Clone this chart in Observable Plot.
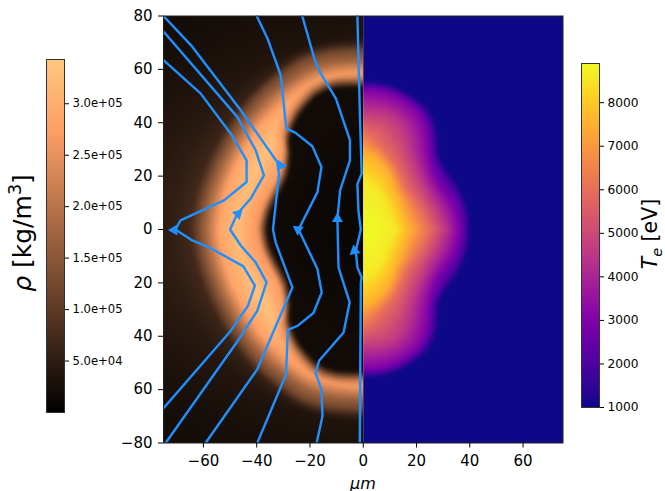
<!DOCTYPE html>
<html><head><meta charset="utf-8">
<script src="https://cdn.jsdelivr.net/npm/d3@7"></script>
<script src="https://cdn.jsdelivr.net/npm/@observablehq/plot@0.6"></script>
<style>
html,body{margin:0;padding:0;background:#fff}
#page{position:relative;width:665px;height:491px;overflow:hidden;font-family:"DejaVu Sans",sans-serif;color:#000}
.rot{position:absolute;transform:translate(-50%,-50%) rotate(-90deg);white-space:nowrap}
</style></head><body><div id="page"></div>
<script>
// ---- axis ticks ----
const xTicks=[-60,-40,-20,0,20,40,60];
const yTicks=[80,60,40,20,0,-20,-40,-60,-80];
const yTickLabels=["80","60","40","20","0","20","40","60","\u221280"];
const rhoTicks=[5e4,1e5,1.5e5,2e5,2.5e5,3e5];
const teTicks=[1000,2000,3000,4000,5000,6000,7000,8000];
const rhoMax=3.43e5, teMin=1000, teMax=8900;

// ---- density shell, read along rays from the origin (deg from -x axis towards +y) ----
const rayDeg=[0,5,10,15,20,25,30,35,40,45,50,55,60,65,70,75,80,85,90];
const rInner=[38,37.7,37.3,36.8,36.3,36,36,36.5,38,40.5,45,48,50.5,52.5,54.5,55.5,55.7,55.3,55];
const rCrest=[47,47,47,46.5,46,46,46,46,46.5,48,51,53,55,56.5,58,58.5,58.5,58.5,58.5];
const rShoulderB=[54,53.7,53.5,53.2,53,53,53,53.5,54,54.8,55.5,56.5,58,59,60,60.3,60.3,60.3,60.3];
const rOuter=[62,61.7,61.5,61.2,61,61,61,61.5,62,62.8,63.5,64.3,65,66,67,67.3,67.3,67,67];
const rhoCrest=[3.25e5,3.25e5,3.25e5,3.25e5,3.3e5,3.3e5,3.35e5,3.35e5,3.35e5,3.3e5,3.1e5,3e5,2.9e5,2.8e5,2.75e5,2.7e5,2.7e5,2.7e5,2.7e5];
const rhoB=[2.85e5,2.85e5,2.85e5,2.85e5,2.85e5,2.85e5,2.85e5,2.85e5,2.8e5,2.8e5,2.7e5,2.6e5,2.5e5,2.45e5,2.4e5,2.4e5,2.4e5,2.4e5,2.4e5];
const rhoShoulder=[1.9e5,1.9e5,1.9e5,1.9e5,1.9e5,1.9e5,1.9e5,1.9e5,1.85e5,1.85e5,1.8e5,1.8e5,1.75e5,1.7e5,1.7e5,1.7e5,1.7e5,1.7e5,1.7e5];
const farShare=[1,1,1,0.98,0.95,0.92,0.88,0.84,0.8,0.76,0.72,0.7,0.68,0.66,0.65,0.65,0.65,0.65,0.65];
const coreRadii=[0,10,20,30], coreRho=[1.1e4,1.2e4,1.4e4,1.7e4];
const farRadii=[72,80,90,100,116], farRho=[5.2e4,4.4e4,3.6e4,3e4,2.6e4];
const rhoInnerFoot=1.9e4, rhoInnerTopShare=0.8, rhoOuterMid=1.25e5, rhoOuterFoot=7e4;

// ---- electron temperature, contour radii along rays (deg from +x axis) ----
const teEdge=[40,40,40,39.8,39.5,39.2,38.8,38.6,38.8,40,43.5,47.5,50.3,52.2,53.5,54.5,55.3,55.5,55.5];
const te2000=[38.5,38.5,38.3,38,37.6,37.2,36.8,36.6,37,38.2,41.3,45.2,48.5,50.8,52,53,53.8,54,54];
const te3000=[36,35.8,35.6,35,34.3,33.6,33.2,33.4,34.2,35.8,38.3,42.3,46,48.7,50,51.2,52,52.3,52.4];
const te4500=[31,30,29.5,29,28.5,28,28,28.2,28.7,29.5,30.8,32.6,35,38.5,41.5,43.5,44.2,44.2,44.2];
const te6000=[25,24,23.5,23,22.5,22.2,22,22,22,22.4,23.3,24.5,26,27.5,29,30.7,32.7,35,36.6];
const te7500=[18,17,16.6,16.5,16.5,16.6,16.8,17.2,17.8,18.2,18.8,20,21.3,22.8,24.2,25.5,27,28,29];
const te8600=[12.5,12,11.5,11.3,11.2,11.2,11.2,11.3,11.5,12,12.6,13.3,14,14.8,15.6,16.2,17,17.5,18];
const teLevels=[[teEdge,1050],[te2000,2000],[te3000,3000],[te4500,4500],[te6000,6000],[te7500,7500],[te8600,8600]];
const teCoreRadii=[0,5], teCore=[8850,8850];
const teFarRadii=[60,80,112];

// ---- streamlines [x, y] in um ----
const lineA=[[-75,80],[-64.2,68.5],[-46,44.7],[-32.3,25.3],[-31.6,20.9],[-33.9,0],[-32.9,-4.8],[-26.6,-21.7],[-39.8,-52.4],[-59.2,-80]];
const lineB=[[-75,74.2],[-47.3,42.2],[-40.4,29.7],[-37.3,20.3],[-42.3,11.5],[-47.3,5.9],[-50,0],[-46,-6],[-40.4,-12.3],[-36.3,-19.8],[-39.8,-30.5],[-46.7,-41.1],[-74.2,-80]];
const lineC=[[-75,63.5],[-61.1,51],[-49.8,36],[-43.8,25.9],[-43.8,17.8],[-52.3,10.9],[-68.6,3.4],[-70.5,0],[-64.2,-4.1],[-57.3,-7],[-45,-13.8],[-40.7,-21],[-43.3,-28.6],[-49.8,-38],[-75,-67]];
const lineD=[[-40,80],[-36,71.7],[-31,57.9],[-28.9,37.9],[-25.4,36.2],[-19.1,31.2],[-15.7,23.4],[-17.2,14],[-24.3,0],[-17.2,-14.8],[-15.6,-23.6],[-18.7,-31.3],[-24.7,-36.1],[-28.3,-37.6],[-29,-54.3],[-39.8,-80]];
const lineE=[[-22.9,80],[-18.2,63.5],[-16,58.5],[-10.3,49.1],[-5,33.5],[-5,25.9],[-8.7,14.7],[-9.7,4],[-9.3,-14.2],[-5.1,-27.3],[-7.4,-38.6],[-16.6,-49.2],[-17.9,-53.9],[-15.7,-59.9],[-15.3,-69.9],[-17.5,-80]];
const lineF=[[-2.2,80],[-1.3,44.7],[-0.6,21],[-2.2,17],[-1.8,7],[-0.9,0],[-2.8,-8],[-2.2,-14.2],[-0.6,-18],[-0.9,-19.8],[-1.3,-80]];
const streamlines=[lineA,lineB,lineC,lineD,lineE,lineF];
const arrowX=[-31,-47,-71,-24.5,-9.7,-3.3];
const arrowY=[24,5.9,-0.2,0,4,-8];
const arrowAngle=[95,45,-90,-55,0,-10];

const blue="#1e90ff";
const rad=d=>d*Math.PI/180;
// keeps the axis ray off the centre of a pixel row, where raster triangles leave a seam
const seamNudge=0.07;

// tables for the raster marks
const rhoPoints=[];
rayDeg.forEach((deg,i)=>{
  const prof=[
    ...coreRadii.map((r,k)=>[r,coreRho[k]]),
    [rInner[i]-2,rhoInnerFoot],
    [rInner[i]+1.5,rhoCrest[i]*rhoInnerTopShare],
    [rCrest[i],rhoCrest[i]],
    [rShoulderB[i],rhoB[i]],
    [rOuter[i]-3.5,rhoShoulder[i]],
    [rOuter[i],rhoOuterMid],
    [rOuter[i]+3,rhoOuterFoot*(0.3+0.7*farShare[i])],
    ...farRadii.map((r,k)=>[r,farRho[k]*farShare[i]])
  ];
  for(const [r,v] of prof){
    rhoPoints.push({x:-r*Math.cos(rad(deg)),y:r*Math.sin(rad(deg))+(deg===0?seamNudge:0),v});
    if(deg>0) rhoPoints.push({x:-r*Math.cos(rad(deg)),y:-r*Math.sin(rad(deg)),v});
  }
});
const tePoints=[];
rayDeg.forEach((deg,i)=>{
  const prof=[
    ...teCoreRadii.map((r,k)=>[r,teCore[k]]),
    ...teLevels.map(([arr,v])=>[arr[i],v]).reverse(),
    [teEdge[i]+1.2,1000],
    ...teFarRadii.map(r=>[r,1000])
  ];
  for(const [r,v] of prof){
    tePoints.push({x:r*Math.cos(rad(deg)),y:r*Math.sin(rad(deg))+(deg===0?seamNudge:0),v});
    if(deg>0) tePoints.push({x:r*Math.cos(rad(deg)),y:-r*Math.sin(rad(deg)),v});
  }
});

const copperScale={type:"linear",domain:[0,0.8*rhoMax,rhoMax],range:["#000000","#ff9f65","#ffc77f"],clamp:true};
const plasmaScale={type:"linear",scheme:"plasma",domain:[teMin,teMax],clamp:true};
const frameBox={width:665,height:491,marginLeft:163,marginRight:102.5,marginTop:15.5,marginBottom:48.5};
const xS={domain:[-75,75]}, yS={domain:[-80,80]};

const page=document.getElementById("page");
function place(el,left,top){el.style.position="absolute";el.style.left=left+"px";el.style.top=top+"px";el.style.maxWidth="none";page.appendChild(el);}

// density layer
const rhoPlot=Plot.plot({...frameBox,x:{...xS,axis:null},y:{...yS,axis:null},color:copperScale,
  style:{background:"transparent"},
  marks:[Plot.raster(rhoPoints,{x:"x",y:"y",fill:"v",x1:-75,x2:0,y1:-80,y2:80,interpolate:"barycentric",pixelSize:1,blur:1.2})]});
place(rhoPlot,0,0);

// temperature layer, axes and streamlines
const mainPlot=Plot.plot({...frameBox,x:{...xS,axis:null},y:{...yS,axis:null},color:plasmaScale,
  style:{background:"transparent",fontFamily:"DejaVu Sans",fontSize:"15px",color:"#000"},
  marks:[
    Plot.raster(tePoints,{x:"x",y:"y",fill:"v",x1:0,x2:75,y1:-80,y2:80,interpolate:"barycentric",pixelSize:1,blur:1.2}),
    ...streamlines.map(l=>Plot.line(l,{x:d=>d[0],y:d=>d[1],stroke:blue,strokeWidth:2.4,strokeLinejoin:"miter",clip:true})),
    Plot.dot(arrowX.map((x,i)=>({x,y:arrowY[i],a:arrowAngle[i]})),{x:"x",y:"y",rotate:"a",symbol:"triangle2",r:4,fill:blue,stroke:blue}),
    Plot.frame({stroke:"#222",strokeWidth:1}),
    Plot.axisX({ticks:xTicks,tickSize:5,tickPadding:7,label:null,fontSize:15,stroke:"#000",fill:"#000",tickFormat:d=>d<0?"\u2212"+(-d):""+d}),
    Plot.axisY({ticks:yTicks,tickSize:5,tickPadding:6,label:null,fontSize:15,stroke:"#000",fill:"#000",tickFormat:d=>yTickLabels[yTicks.indexOf(d)]})
  ]});
place(mainPlot,0,0);

// colour bars
const rhoBar=Plot.plot({width:90,height:355,marginLeft:1,marginRight:71,marginTop:1,marginBottom:1,
  x:{domain:[0,1],axis:null},y:{domain:[0,rhoMax],axis:null},color:copperScale,
  style:{background:"transparent",fontFamily:"DejaVu Sans"},
  marks:[
    Plot.raster({x1:0,x2:1,y1:0,y2:rhoMax,fill:(x,y)=>y,pixelSize:1}),
    Plot.frame({stroke:"#333",strokeWidth:1}),
    Plot.axisY({anchor:"right",ticks:rhoTicks,tickSize:4,tickPadding:4,label:null,fontSize:11.6,stroke:"#000",fill:"#000",tickFormat:d=>d3.format(".1e")(d).replace(/e\+(\d)$/,"e+0$1")})
  ]});
place(rhoBar,44.5,57.5);

const teBar=Plot.plot({width:70,height:364,marginLeft:1,marginRight:51,marginTop:10,marginBottom:10,
  x:{domain:[0,1],axis:null},y:{domain:[teMin,teMax],axis:null},color:plasmaScale,
  style:{background:"transparent",fontFamily:"DejaVu Sans"},
  marks:[
    Plot.raster({x1:0,x2:1,y1:teMin,y2:teMax,fill:(x,y)=>y,pixelSize:1}),
    Plot.frame({stroke:"#333",strokeWidth:1}),
    Plot.axisY({anchor:"right",ticks:teTicks,tickSize:4,tickPadding:4,label:null,fontSize:12.2,stroke:"#000",fill:"#000",tickFormat:d=>""+d})
  ]});
place(teBar,580,52.7);

// titles
function label(html,x,y,size,rot){const d=document.createElement("div");d.innerHTML=html;d.style.left=x+"px";d.style.top=y+"px";d.style.fontSize=size+"px";d.className="rot";if(!rot)d.style.transform="translate(-50%,-50%)";page.appendChild(d);return d;}
label('<i>ρ</i> [kg/m<sup style="font-size:0.7em;line-height:0">3</sup>]',22,233,25,true);
label('<i>T<sub style="font-size:0.7em;line-height:0">e</sub></i> [eV]',650,234,20.5,true);
label('<i>μm</i>',363,483,16,false);
</script></body></html>
